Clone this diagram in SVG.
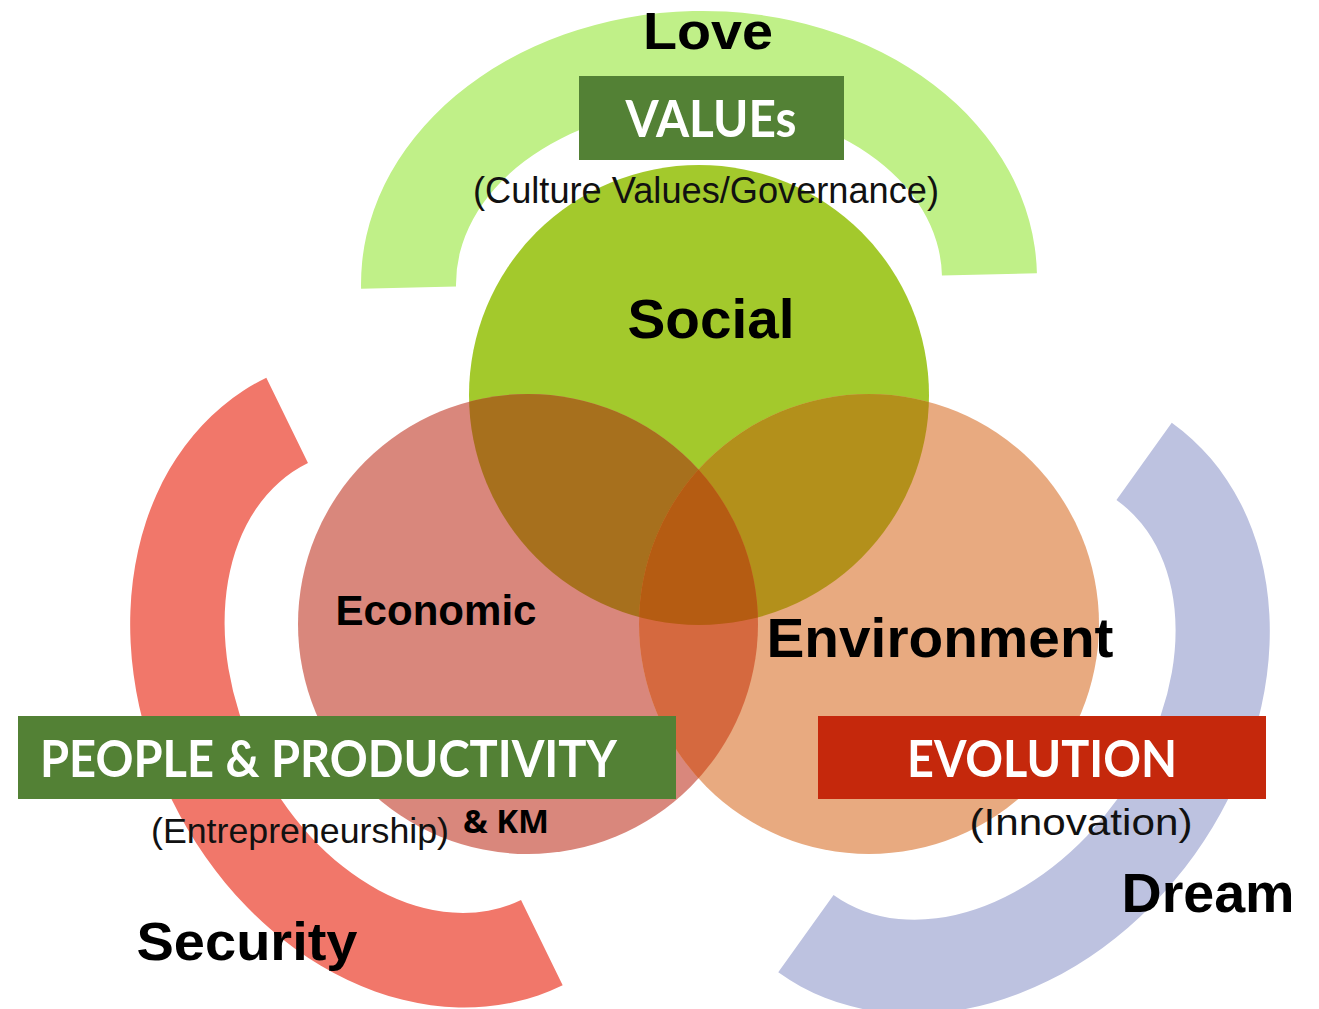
<svg xmlns="http://www.w3.org/2000/svg" width="1319" height="1009" viewBox="0 0 1319 1009">
  <style>
    .lbl { font-family: "Liberation Sans", Arial, sans-serif; font-weight: bold; fill: #000; text-anchor: middle; }
    .sub { font-family: "Liberation Sans", Arial, sans-serif; font-weight: normal; fill: #111; text-anchor: middle; }
    .box { font-family: "Lato", "Open Sans", sans-serif; font-weight: bold; fill: #fff; text-anchor: middle; }
  </style>
  <defs>
    <path id="ring" d="M -338 0 A 338 270 0 0 1 338 0 L 243 0 A 243 175 0 0 0 -243 0 Z"/>
    <clipPath id="clipSoc"><circle cx="699" cy="395" r="230"/></clipPath>
    <clipPath id="clipEcon"><circle cx="528" cy="624" r="230"/></clipPath>
  </defs>
  <rect width="1319" height="1009" fill="#fff"/>

  <g id="arc-love">
    <use href="#ring" transform="translate(699 281) rotate(-1.3)" fill="#c0f088"/>
  </g>
  <g id="arc-security">
    <use href="#ring" transform="translate(414.5 681.5) rotate(-116)" fill="#f1776a"/>
  </g>
  <g id="arc-dream">
    <use href="#ring" transform="translate(975 697.5) rotate(125.6)" fill="#bdc2e0"/>
  </g>

  <g id="circle-social"><circle cx="699" cy="395" r="230" fill="#a3c92c"/></g>
  <g id="circle-economic"><circle cx="528" cy="624" r="230" fill="#d9877c"/></g>
  <g id="circle-environment"><circle cx="869" cy="624" r="230" fill="#e8aa80"/></g>

  <g id="overlaps">
    <circle cx="528" cy="624" r="230" fill="#a7701d" clip-path="url(#clipSoc)"/>
    <circle cx="869" cy="624" r="230" fill="#b3901b" clip-path="url(#clipSoc)"/>
    <circle cx="869" cy="624" r="230" fill="#d5693f" clip-path="url(#clipEcon)"/>
    <g clip-path="url(#clipSoc)">
      <circle cx="869" cy="624" r="230" fill="#b55c12" clip-path="url(#clipEcon)"/>
    </g>
  </g>

  <g id="connectors"/>

  <g id="label-love"><text class="lbl" x="708" y="49" font-size="52" textLength="130" lengthAdjust="spacingAndGlyphs">Love</text></g>
  <g id="label-values">
    <rect x="579" y="76" width="265" height="84" fill="#538135"/>
    <text class="box" x="711" y="137" font-size="52" textLength="171" lengthAdjust="spacingAndGlyphs">VALUEs</text>
    <text class="sub" x="706" y="203" font-size="36" textLength="466" lengthAdjust="spacingAndGlyphs">(Culture Values/Governance)</text>
  </g>
  <g id="label-social"><text class="lbl" x="711" y="338" font-size="56" textLength="167" lengthAdjust="spacingAndGlyphs">Social</text></g>
  <g id="label-economic"><text class="lbl" x="436" y="625" font-size="42" textLength="201" lengthAdjust="spacingAndGlyphs">Economic</text></g>
  <g id="label-environment"><text class="lbl" x="940" y="657" font-size="56" textLength="347" lengthAdjust="spacingAndGlyphs">Environment</text></g>

  <g id="label-people">
    <rect x="18" y="716" width="658" height="83" fill="#538135"/>
    <text class="box" x="328.5" y="777" font-size="52" textLength="577" lengthAdjust="spacingAndGlyphs">PEOPLE &amp; PRODUCTIVITY</text>
    <text class="sub" x="300" y="843" font-size="35" textLength="298" lengthAdjust="spacingAndGlyphs">(Entrepreneurship)</text>
    <text class="lbl" x="506" y="833" font-size="32" textLength="86" lengthAdjust="spacingAndGlyphs" style="font-family:'Open Sans','Liberation Sans',sans-serif">&amp; KM</text>
  </g>
  <g id="label-evolution">
    <rect x="818" y="716" width="448" height="83" fill="#c5280c"/>
    <text class="box" x="1042" y="777" font-size="52" textLength="270" lengthAdjust="spacingAndGlyphs">EVOLUTION</text>
    <text class="sub" x="1081" y="835" font-size="36" textLength="223" lengthAdjust="spacingAndGlyphs">(Innovation)</text>
  </g>
  <g id="label-security"><text class="lbl" x="247" y="960" font-size="53" textLength="221" lengthAdjust="spacingAndGlyphs">Security</text></g>
  <g id="label-dream"><text class="lbl" x="1208" y="912" font-size="55" textLength="173" lengthAdjust="spacingAndGlyphs">Dream</text></g>
</svg>
